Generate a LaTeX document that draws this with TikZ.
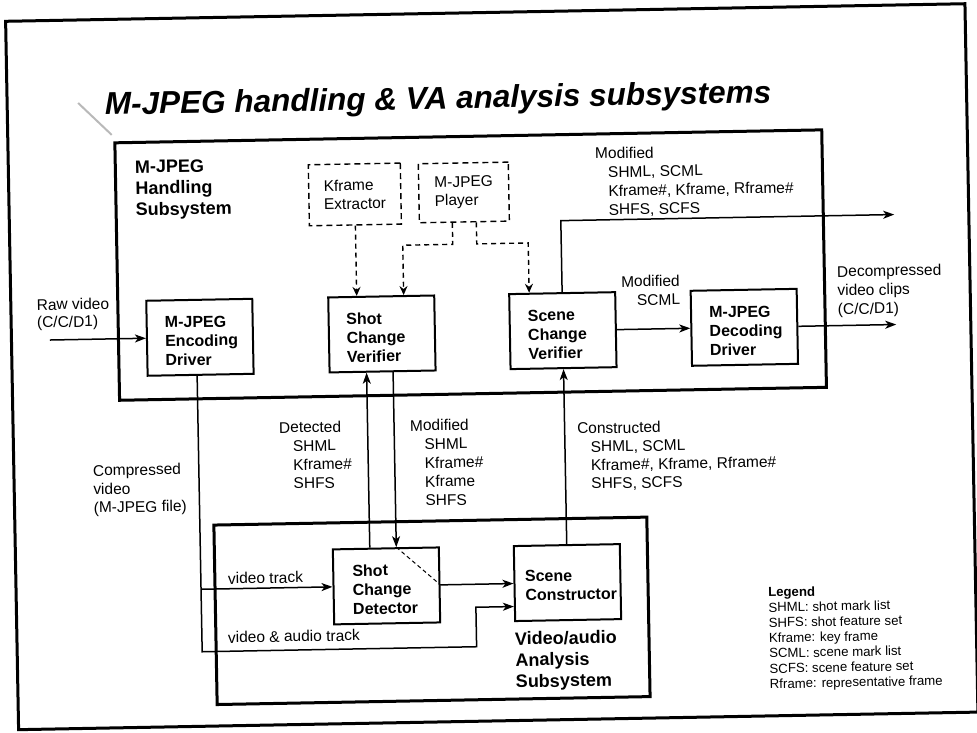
\documentclass[tikz,border=0pt]{standalone}
\usepackage{fontspec}
\setmainfont{Liberation Sans}
\usetikzlibrary{arrows.meta}

% multi-line text nodes are placed by the baseline of their last line
\tikzset{
  frame/.style={draw, line width=3pt},
  blk/.style={draw, line width=2pt, minimum width=106pt, minimum height=75pt, inner sep=0pt},
  dblk/.style={draw, line width=1.4pt, dash pattern=on 6pt off 4pt, inner sep=0pt,
    align=left, font=\fontsize{15.5}{18.5}\selectfont},
  blab/.style={font=\bfseries\fontsize{16}{19}\selectfont, align=left, inner sep=0pt, anchor=base west},
  sublab/.style={font=\bfseries\fontsize{18}{21.3}\selectfont, align=left, inner sep=0pt, anchor=base west},
  lab/.style={font=\fontsize{15.5}{18.8}\selectfont, align=left, inner sep=0pt, anchor=base west},
  leg/.style={font=\fontsize{13.2}{15.3}\selectfont, align=left, inner sep=0pt, anchor=base west},
  arr/.style={line width=1.5pt, -{Stealth[length=11pt,width=8pt,inset=3pt]}},
  darr/.style={line width=1.4pt, dash pattern=on 5pt off 4pt, -{Stealth[length=9pt,width=8pt,inset=3pt]}},
}

\begin{document}
\begin{tikzpicture}[x=1pt,y=-1pt]
\useasboundingbox (0,0) rectangle (977,732);
\begin{scope}[rotate around={1.05:(488.5,366)}, transform shape]

% frames
\draw[frame] (12,12.5) rectangle (971.5,721);
\draw[frame] (119,136) rectangle (826,393.5);
\draw[frame] (211,520) rectangle (644,699.5);

% heading
\draw[gray!55, line width=2pt] (83,95.5) -- (116,128);
\node[anchor=base west, inner sep=0pt, font=\bfseries\itshape\fontsize{31.5}{31.5}\selectfont]
  (title) at (109.6,108) {M-JPEG handling \& VA analysis subsystems};

% subsystem captions
\node[sublab] (hcap) at (138.5,209.4) {M-JPEG\\Handling\\Subsystem};
\node[sublab] (vcap) at (509.9,688.1) {Video/audio\\Analysis\\Subsystem};

% optional tools
\node[dblk, minimum width=92pt, minimum height=61pt] (kfx) at (358,192) {Kframe\\Extractor};
\node[dblk, minimum width=90pt, minimum height=59pt] (ply) at (467,192) {M-JPEG\\Player};

% processing blocks
\node[blk] (enc) at (200.5,332) {};
\node[blk] (scv) at (382.5,332) {};
\node[blk] (ncv) at (563.5,332) {};
\node[blk] (dec) at (745,332) {};
\node[blk] (scd) at (382.5,584) {};
\node[blk] (sco) at (563.5,584) {};

\node[blab] (enc-t) at (165.5,360) {M-JPEG\\Encoding\\Driver};
\node[blab] (scv-t) at (347,360) {Shot\\Change\\Verifier};
\node[blab] (ncv-t) at (528.5,360) {Scene\\Change\\Verifier};
\node[blab] (dec-t) at (710,360) {M-JPEG\\Decoding\\Driver};
\node[blab] (scd-t) at (348.5,612) {Shot\\Change\\Detector};
\node[blab] (sco-t) at (521,601.5) {Scene\\Constructor};

% free ends
\coordinate (rawin) at (50.5,332);
\coordinate (outA) at (897,222);
\coordinate (outB) at (897,332);
\coordinate (tap) at (197,584);
\coordinate (vaj) at (471.5,646.5);

% connectors
\draw[arr] (rawin) -- (enc.west);
\draw[arr] (ncv.east) -- (dec.west);
\draw[arr] (dec.east) -- (outB);
\draw[arr] (ncv.north) |- (outA);
\draw[arr] ([xshift=-3.5pt]enc.south) |- (vaj) |- ([yshift=-23pt]sco.west);
\draw[arr] (tap) -- (scd.west);
\draw[arr] (scd.east) -- (sco.west);
\draw[arr] (sco.north) -- (ncv.south);
\draw[arr] ([xshift=-16pt]scd.north) -- ([xshift=-16pt]scv.south);
\draw[arr] ([xshift=10.5pt]scv.south) -- ([xshift=10.5pt]scd.north);
\draw[line width=1pt, dash pattern=on 4pt off 3pt] ([xshift=10.5pt]scd.north) -- (scd.east);

\draw[darr] (kfx.south) -- (kfx.south |- scv.north);
\draw[darr] ([xshift=-12pt]ply.south) -- ++(0,21.5) -| ([xshift=22.5pt]scv.north);
\draw[darr] ([xshift=12pt]ply.south) -- ++(0,21.5) -| ([xshift=-33pt]ncv.north);

% flow labels
\node[lab, font=\fontsize{15.5}{17.5}\selectfont] (l-raw) at (37.7,319.5) {Raw video\\(C/C/D1)};
\node[lab] (l-modout) at (598.8,217.3)
  {Modified\\\hspace*{12.6pt}SHML, SCML\\\hspace*{12.6pt}Kframe\#, Kframe, Rframe\#\\\hspace*{12.6pt}SHFS, SCFS};
\node[lab, align=right, anchor=base east] (l-modscml) at (681.5,308.3) {Modified\\SCML};
\node[lab] (l-dec) at (838.6,321) {Decompressed\\video clips\\(C/C/D1)};
\node[lab, font=\fontsize{15.5}{18.5}\selectfont] (l-comp) at (91,505.8) {Compressed\\video\\(M-JPEG file)};
\node[lab, font=\fontsize{15.5}{18.7}\selectfont] (l-det) at (277.8,485.3)
  {Detected\\\hspace*{13.5pt}SHML\\\hspace*{13.5pt}Kframe\#\\\hspace*{13.5pt}SHFS};
\node[lab] (l-mod) at (408.8,504.8)
  {Modified\\\hspace*{14pt}SHML\\\hspace*{14pt}Kframe\#\\\hspace*{14pt}Kframe\\\hspace*{14pt}SHFS};
\node[lab, font=\fontsize{15.5}{18.4}\selectfont] (l-con) at (575.8,490.8)
  {Constructed\\\hspace*{13.2pt}SHML, SCML\\\hspace*{13.2pt}Kframe\#, Kframe, Rframe\#\\\hspace*{13.2pt}SHFS, SCFS};
\node[lab] (l-vt) at (224,579.2) {video track};
\node[lab] (l-vat) at (222.9,638.2) {video \& audio track};

% legend
\node[leg] (legend) at (763.8,693.6)
  {\textbf{Legend}\\SHML: shot mark list\\SHFS: shot feature set\\Kframe: key frame\\SCML: scene mark list\\SCFS: scene feature set\\Rframe: representative frame};

\end{scope}
\end{tikzpicture}
\end{document}
